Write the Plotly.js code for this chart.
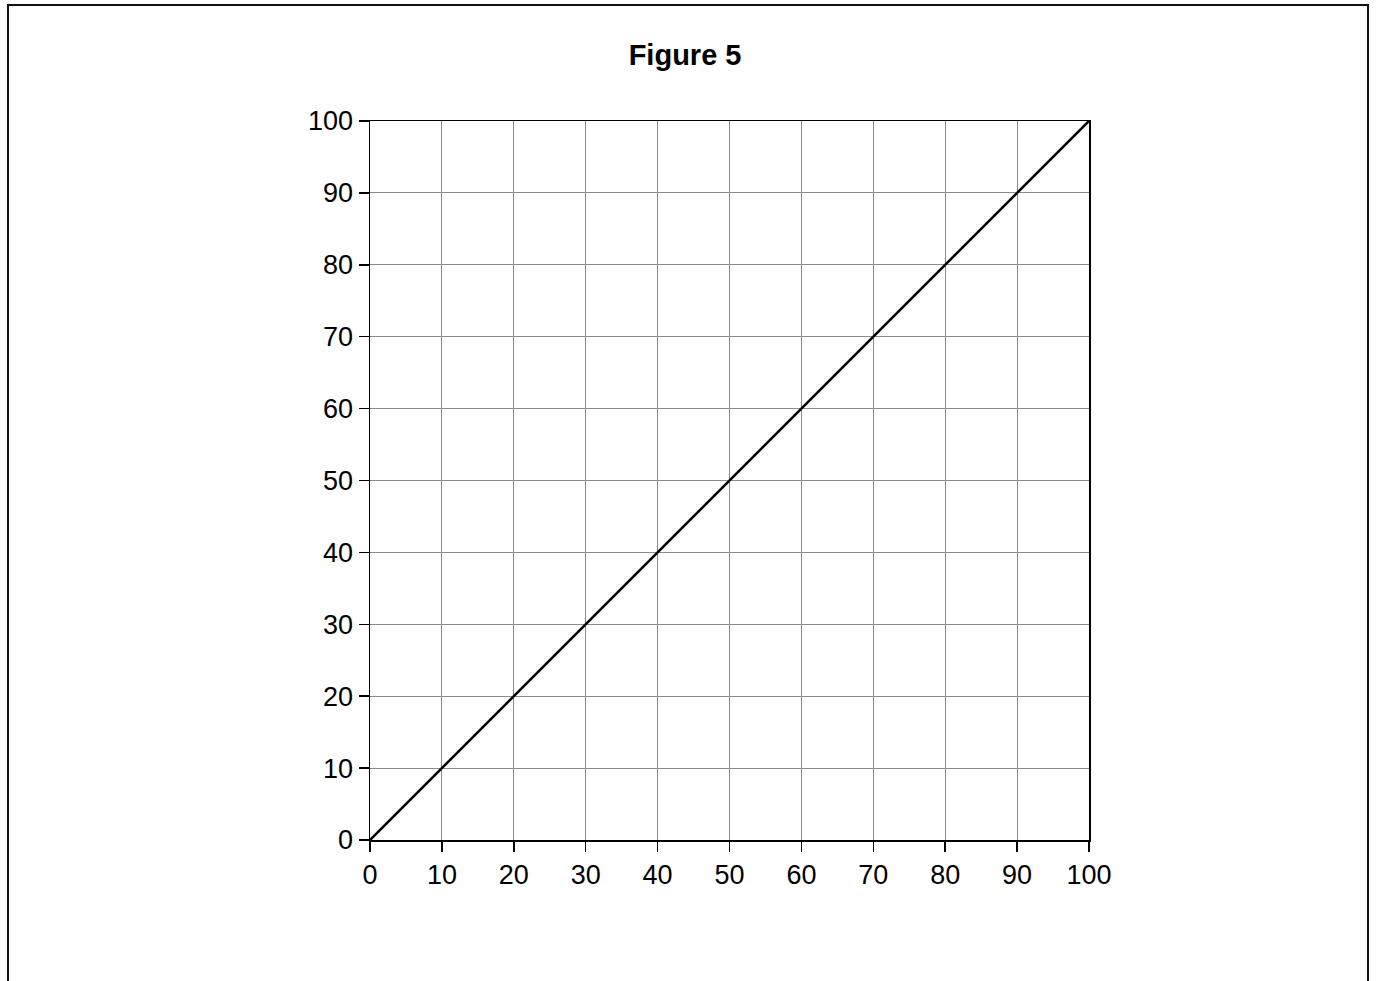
<!DOCTYPE html>
<html>
<head>
<meta charset="utf-8">
<script src="https://cdn.plot.ly/plotly-3.0.1.min.js"></script>
<style>
  html, body { margin: 0; padding: 0; background: #fff; overflow: hidden; }
  #frame { position: absolute; left: 7px; top: 4px; width: 1362px; height: 1010px; border: 2px solid #111; box-sizing: border-box; pointer-events: none; z-index: 2; }
  #chart { position: absolute; left: 0; top: 0; width: 1377px; height: 981px; }
</style>
</head>
<body>
<div id="chart"></div>
<div id="frame"></div>
<script>
const xValues = [0, 100];
const yValues = [0, 100];
const tickVals = [0, 10, 20, 30, 40, 50, 60, 70, 80, 90, 100];
const tickLabels = ["0", "10", "20", "30", "40", "50", "60", "70", "80", "90", "100"];
const chartTitle = "Figure 5";

const axisCommon = {
  range: [0, 100],
  tickvals: tickVals,
  ticktext: tickLabels,
  ticks: "outside",
  ticklen: 10,
  tickwidth: 1.5,
  tickcolor: "#000",
  showline: true,
  linecolor: "#000",
  linewidth: 1.5,
  mirror: true,
  showgrid: true,
  gridcolor: "#8c8c8c",
  gridwidth: 1,
  zeroline: false,
  tickfont: { family: "Liberation Sans, Arial, sans-serif", size: 27, color: "#000" },
  fixedrange: true
};

const data = [{
  x: xValues,
  y: yValues,
  type: "scatter",
  mode: "lines",
  line: { color: "#000", width: 2.5 },
  hoverinfo: "skip"
}];

const layout = {
  width: 1377,
  height: 981,
  margin: { l: 370, r: 288, t: 121, b: 141 },
  paper_bgcolor: "#fff",
  plot_bgcolor: "#fff",
  showlegend: false,
  title: {
    text: "<b>" + chartTitle + "</b>",
    font: { family: "Liberation Sans, Arial, sans-serif", size: 29, color: "#000" },
    xref: "container", yref: "container",
    x: 0.4975, y: 1 - 55 / 981,
    xanchor: "center", yanchor: "middle"
  },
  xaxis: Object.assign({}, axisCommon),
  yaxis: Object.assign({}, axisCommon)
};

Plotly.newPlot("chart", data, layout, { displayModeBar: false, staticPlot: true });
</script>
</body>
</html>
